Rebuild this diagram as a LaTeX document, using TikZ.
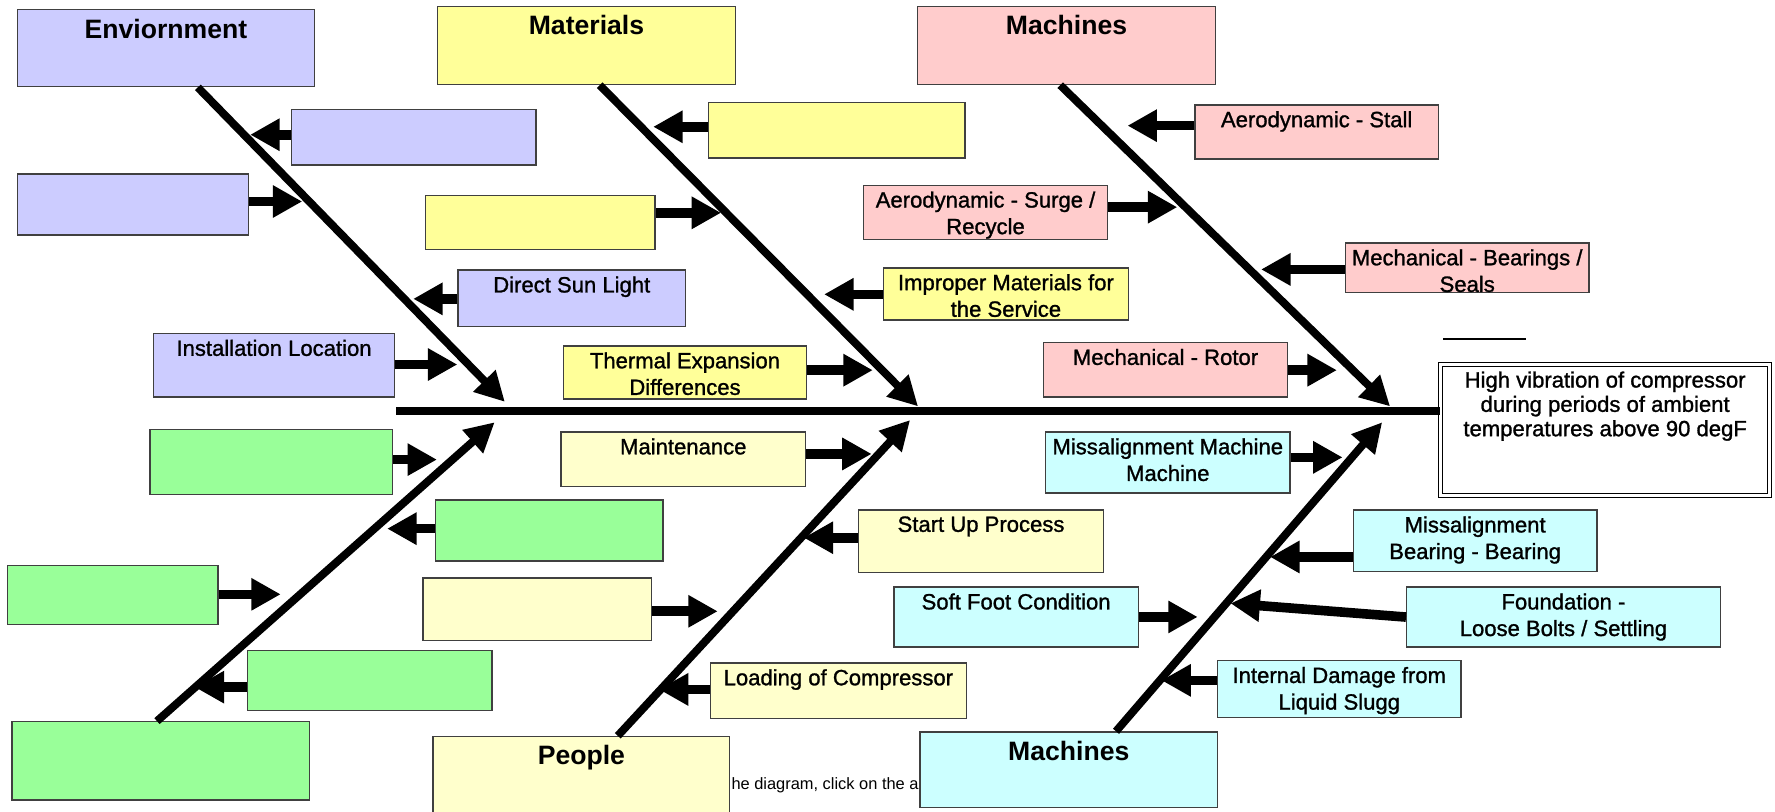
\documentclass[tikz,border=0pt]{standalone}
\usepackage{fontspec}
\setmainfont{Liberation Sans}
\newfontfamily\lblfont{Liberation Sans}[FakeBold=1.2]
\usetikzlibrary{arrows.meta,calc}

\definecolor{envblue}{HTML}{CCCCFF}
\definecolor{matyellow}{HTML}{FFFF99}
\definecolor{machpink}{HTML}{FFCCCC}
\definecolor{pplyellow}{HTML}{FFFFCC}
\definecolor{envgreen}{HTML}{99FF99}
\definecolor{machcyan}{HTML}{CCFFFF}
\definecolor{boxline}{HTML}{404040}

\begin{document}
\begin{tikzpicture}[x=1pt, y=-1pt,
    box/.style={draw=boxline, line width=1.2pt, anchor=north west, inner sep=0pt},
    cattext/.style={anchor=north, inner sep=8.5pt, font=\fontsize{23.5}{27}\selectfont\bfseries},
    txt/.style={anchor=north, inner sep=6pt, align=center, font=\lblfont\fontsize{19.5}{23.5}\selectfont},
    effect/.style={draw=black, line width=0.9pt, double=white, double distance=2.5pt,
      fill=white, anchor=north west, inner sep=0pt},
    spine/.style={line width=7.5pt},
    bone/.style={line width=7pt, -{Triangle[length=26pt,width=26pt]}},
    cause/.style={line width=8.5pt, -{Triangle[length=26pt,width=27pt]}}]

  % Page
  \useasboundingbox (0,0) rectangle (1568,717);
  \clip (0,0) rectangle (1568,717);
  \fill[white] (0,0) rectangle (1568,717);

  % Text left behind the lower boxes
  \node[anchor=base west, inner sep=0pt, font=\fontsize{14.5}{17}\selectfont] (note)
    at (646,697) {he diagram, click on the a};

  % Effect box
  \node[effect, minimum width=291pt, minimum height=115.5pt] (effect) at (1272,321.5) {};
  \node[anchor=north, inner sep=6.5pt, align=center, font=\lblfont\fontsize{19.5}{21.5}\selectfont]
    (effect-t) at (effect.north) {High vibration of compressor\\during periods of ambient\\temperatures above 90 degF};
  \draw[line width=1pt] (1275,299.5) -- (1348,299.5);

  % Draw the spine
  \coordinate (sp) at (350,363);
  \draw[spine] (sp) -- (sp -| effect.west);

  % Category boxes (needed first for the bones)
  \node[box, fill=envblue, minimum width=262pt, minimum height=68pt] (env) at (15,8) {};
  \node[box, fill=matyellow, minimum width=263pt, minimum height=69pt] (mat) at (386,5) {};
  \node[box, fill=machpink, minimum width=263pt, minimum height=69pt] (mach) at (810,5) {};
  \node[box, fill=envgreen, minimum width=263pt, minimum height=69pt] (grn) at (10,637) {};
  \node[box, fill=pplyellow, minimum width=262pt, minimum height=80pt] (ppl) at (382,650) {};
  \node[box, fill=machcyan, minimum width=263pt, minimum height=67pt] (mach2) at (812,646) {};

  % Draw the bones
  \coordinate (tipenv) at (446,355);
  \coordinate (tipmat) at (811,359);
  \coordinate (tipmach) at (1228,359);
  \coordinate (tipgrn) at (437,373);
  \coordinate (tipppl) at (804,371);
  \coordinate (tipmach2) at (1221,373);
  \draw[bone] ($(env.south west)!0.607!(env.south east)$) -- (tipenv);
  \draw[bone] ($(mat.south west)!0.544!(mat.south east)$) -- (tipmat);
  \draw[bone] ($(mach.south west)!0.479!(mach.south east)$) -- (tipmach);
  \draw[bone] ($(grn.north west)!0.487!(grn.north east)$) -- (tipgrn);
  \draw[bone] ($(ppl.north west)!0.622!(ppl.north east)$) -- (tipppl);
  \draw[bone] ($(mach2.north west)!0.658!(mach2.north east)$) -- (tipmach2);

  % Enviornment causes
  \node[box, fill=envblue, minimum width=216pt, minimum height=49pt] (env1) at (257,96) {};
  \node[box, fill=envblue, minimum width=204pt, minimum height=54pt] (env2) at (15,153) {};
  \node[box, fill=envblue, minimum width=201pt, minimum height=50pt] (dsl) at (404,238) {};
  \node[box, fill=envblue, minimum width=213pt, minimum height=56pt] (inst) at (135,294) {};

  % Materials causes
  \node[box, fill=matyellow, minimum width=227pt, minimum height=49pt] (mat1) at (625,90) {};
  \node[box, fill=matyellow, minimum width=203pt, minimum height=48pt] (mat2) at (375,172) {};
  \node[box, fill=matyellow, minimum width=216pt, minimum height=46pt] (impr) at (780,236) {};
  \node[box, fill=matyellow, minimum width=215pt, minimum height=47pt] (therm) at (497,305) {};

  % Machines causes (top)
  \node[box, fill=machpink, minimum width=215pt, minimum height=48pt] (stall) at (1055,92) {};
  \node[box, fill=machpink, minimum width=216pt, minimum height=48pt] (surge) at (762,163) {};
  \node[box, fill=machpink, minimum width=215pt, minimum height=44pt] (bear) at (1188,214) {};
  \node[box, fill=machpink, minimum width=216pt, minimum height=48pt] (rotor) at (921,302) {};

  % Green causes
  \node[box, fill=envgreen, minimum width=214pt, minimum height=57pt] (grn1) at (132,379) {};
  \node[box, fill=envgreen, minimum width=201pt, minimum height=54pt] (grn2) at (384,441) {};
  \node[box, fill=envgreen, minimum width=186pt, minimum height=52pt] (grn3) at (6,499) {};
  \node[box, fill=envgreen, minimum width=216pt, minimum height=53pt] (grn4) at (218,574) {};

  % People causes
  \node[box, fill=pplyellow, minimum width=216pt, minimum height=48pt] (maint) at (495,381) {};
  \node[box, fill=pplyellow, minimum width=216pt, minimum height=55pt] (start) at (758,450) {};
  \node[box, fill=pplyellow, minimum width=202pt, minimum height=55pt] (ppl1) at (373,510) {};
  \node[box, fill=pplyellow, minimum width=226pt, minimum height=49pt] (load) at (627,585) {};

  % Machines causes (bottom)
  \node[box, fill=machcyan, minimum width=216pt, minimum height=54pt] (misma) at (923,381) {};
  \node[box, fill=machcyan, minimum width=215pt, minimum height=54pt] (misbe) at (1195,450) {};
  \node[box, fill=machcyan, minimum width=216pt, minimum height=53pt] (soft) at (789,518) {};
  \node[box, fill=machcyan, minimum width=277pt, minimum height=53pt] (found) at (1242,518) {};
  \node[box, fill=machcyan, minimum width=215pt, minimum height=50pt] (intdmg) at (1075,583) {};

  % Draw the cause arrows
  \foreach \b/\s/\x/\y in {env1/west/221/119, env2/east/267/178, dsl/west/365/264, inst/east/404/322,
      mat1/west/577/112, mat2/east/637/188, impr/west/728/260, therm/east/771/327,
      stall/west/996/111, surge/east/1040/183, bear/west/1114/238, rotor/east/1181/327,
      grn1/east/386/406, grn2/west/342/467, grn3/east/248/525, grn4/west/172/607,
      maint/east/770/401, start/west/710/475, ppl1/east/634/540, load/west/582/609,
      misma/east/1186/404, misbe/west/1122/492, soft/east/1058/545, intdmg/west/1026/601} {
    \coordinate (tip\b) at (\x,\y);
    \draw[cause] (\b.\s |- tip\b) -- (tip\b);
  }
  \coordinate (tipfound) at (1087,533);
  \draw[cause] (found.west) -- (tipfound);

  % Category names
  \node[cattext] (env-t) at (env.north) {Enviornment};
  \node[cattext] (mat-t) at (mat.north) {Materials};
  \node[cattext] (mach-t) at (mach.north) {Machines};
  \node[cattext] (ppl-t) at (ppl.north) {People};
  \node[cattext] (mach2-t) at (mach2.north) {Machines};

  % Cause texts
  \node[txt] (dsl-t) at (dsl.north) {Direct Sun Light};
  \node[txt] (inst-t) at (inst.north) {Installation Location};
  \node[txt] (impr-t) at (impr.north) {Improper Materials for\\the Service};
  \node[txt] (therm-t) at (therm.north) {Thermal Expansion\\Differences};
  \node[txt] (stall-t) at (stall.north) {Aerodynamic - Stall};
  \node[txt] (surge-t) at (surge.north) {Aerodynamic - Surge /\\Recycle};
  \node[txt] (bear-t) at (bear.north) {Mechanical - Bearings /\\Seals};
  \node[txt] (rotor-t) at (rotor.north) {Mechanical - Rotor};
  \node[txt] (maint-t) at (maint.north) {Maintenance};
  \node[txt] (start-t) at (start.north) {Start Up Process};
  \node[txt] (load-t) at (load.north) {Loading of Compressor};
  \node[txt] (misma-t) at (misma.north) {Missalignment Machine\\Machine};
  \node[txt] (misbe-t) at (misbe.north) {Missalignment\\Bearing - Bearing};
  \node[txt] (soft-t) at (soft.north) {Soft Foot Condition};
  \node[txt] (found-t) at (found.north) {Foundation -\\Loose Bolts / Settling};
  \node[txt] (intdmg-t) at (intdmg.north) {Internal Damage from\\Liquid Slugg};
\end{tikzpicture}
\end{document}
